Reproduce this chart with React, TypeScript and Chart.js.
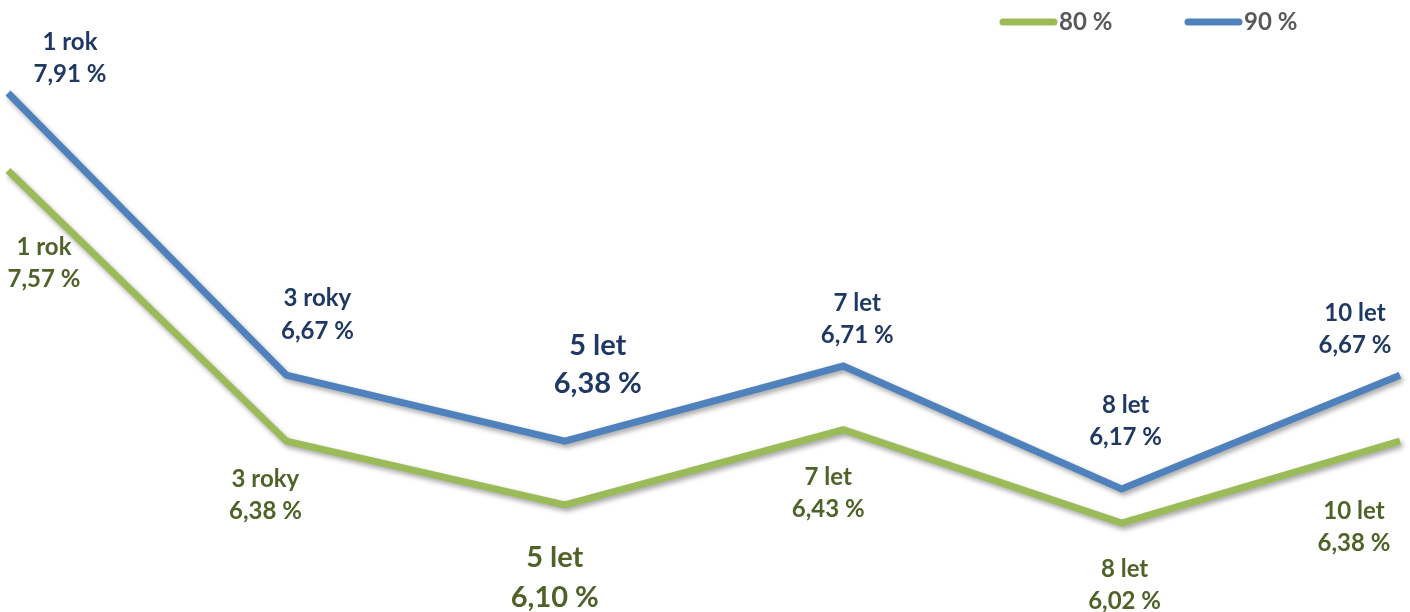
import React, { useEffect, useRef } from "react";
import { Chart, registerables } from "chart.js";

Chart.register(...registerables);

const categories = ["1 rok", "3 roky", "5 let", "7 let", "8 let", "10 let"];
const values80 = [7.57, 6.38, 6.1, 6.43, 6.02, 6.38];
const values90 = [7.91, 6.67, 6.38, 6.71, 6.17, 6.67];
const seriesNames = ["80 %", "90 %"];

const GREEN = "#9BBB59";
const BLUE = "#4F81BD";
const GREEN_TEXT = "#4F6228";
const BLUE_TEXT = "#1F3864";
const FONT = "Lato, 'Open Sans', sans-serif";

// label offsets relative to data point: [dx, dy of first line, line gap, font size]
const offsets90: [number, number, number, number][] = [
  [62, -51, 32, 24],
  [31, -77, 33, 24],
  [33, -95, 38, 29],
  [14, -63, 32, 24],
  [4, -84, 32, 24],
  [-45, -62, 32, 24],
];
const offsets80: [number, number, number, number][] = [
  [36, 77, 32, 24],
  [-21, 38, 32, 24],
  [-10, 53, 40, 29],
  [-15, 48, 32, 24],
  [3, 46, 32, 24],
  [-46, 70, 32, 24],
];

const fmt = (v: number) => v.toFixed(2).replace(".", ",") + " %";

const shadowPlugin = {
  id: "lineShadow",
  beforeDatasetDraw(chart: any) {
    const ctx = chart.ctx;
    ctx.save();
    ctx.shadowColor = "rgba(0,0,0,0.35)";
    ctx.shadowBlur = 5;
    ctx.shadowOffsetX = 2;
    ctx.shadowOffsetY = 3;
  },
  afterDatasetDraw(chart: any) {
    chart.ctx.restore();
  },
};

const labelPlugin = {
  id: "pointLabels",
  afterDatasetsDraw(chart: any) {
    const ctx = chart.ctx;
    const sets = [
      { idx: 0, vals: values80, offs: offsets80, color: GREEN_TEXT },
      { idx: 1, vals: values90, offs: offsets90, color: BLUE_TEXT },
    ];
    ctx.save();
    ctx.textAlign = "center";
    ctx.textBaseline = "middle";
    for (const s of sets) {
      const meta = chart.getDatasetMeta(s.idx);
      meta.data.forEach((pt: any, i: number) => {
        const [dx, dy, gap, size] = s.offs[i];
        ctx.fillStyle = s.color;
        ctx.font = `bold ${size}px ${FONT}`;
        ctx.fillText(categories[i], pt.x + dx, pt.y + dy);
        ctx.fillText(fmt(s.vals[i]), pt.x + dx, pt.y + dy + gap);
      });
    }
    ctx.restore();
  },
};

const legendPlugin = {
  id: "customLegend",
  afterDraw(chart: any) {
    const ctx = chart.ctx;
    const items = [
      { name: seriesNames[0], color: GREEN, x: 1003 },
      { name: seriesNames[1], color: BLUE, x: 1188 },
    ];
    ctx.save();
    for (const it of items) {
      ctx.strokeStyle = it.color;
      ctx.lineWidth = 7;
      ctx.lineCap = "round";
      ctx.beginPath();
      ctx.moveTo(it.x, 22);
      ctx.lineTo(it.x + 51, 22);
      ctx.stroke();
      ctx.fillStyle = "#595959";
      ctx.font = `bold 24px ${FONT}`;
      ctx.textAlign = "left";
      ctx.textBaseline = "middle";
      ctx.fillText(it.name, it.x + 56, 22);
    }
    ctx.restore();
  },
};

export default function App() {
  const ref = useRef<HTMLCanvasElement | null>(null);
  useEffect(() => {
    if (!ref.current) return;
    const chart = new Chart(ref.current, {
      type: "line",
      data: {
        labels: categories,
        datasets: [
          {
            label: seriesNames[0],
            data: values80,
            borderColor: GREEN,
            backgroundColor: GREEN,
            borderWidth: 7,
            pointRadius: 0,
            tension: 0,
            borderJoinStyle: "miter",
            clip: false as any,
          },
          {
            label: seriesNames[1],
            data: values90,
            borderColor: BLUE,
            backgroundColor: BLUE,
            borderWidth: 7,
            pointRadius: 0,
            tension: 0,
            borderJoinStyle: "miter",
            clip: false as any,
          },
        ],
      },
      options: {
        responsive: false,
        animation: false,
        devicePixelRatio: 1,
        layout: { padding: { left: 8, right: 10, top: 0, bottom: 0 } },
        plugins: { legend: { display: false }, tooltip: { enabled: false } },
        scales: {
          x: { display: false, offset: false },
          y: { display: false, min: 5.629, max: 8.319 },
        },
      },
      plugins: [shadowPlugin, labelPlugin, legendPlugin],
    });
    return () => chart.destroy();
  }, []);
  return (
    <div style={{ position: "fixed", left: 0, top: 0, width: 1410, height: 612, background: "#fff" }}>
      <canvas ref={ref} width={1410} height={612} />
    </div>
  );
}
